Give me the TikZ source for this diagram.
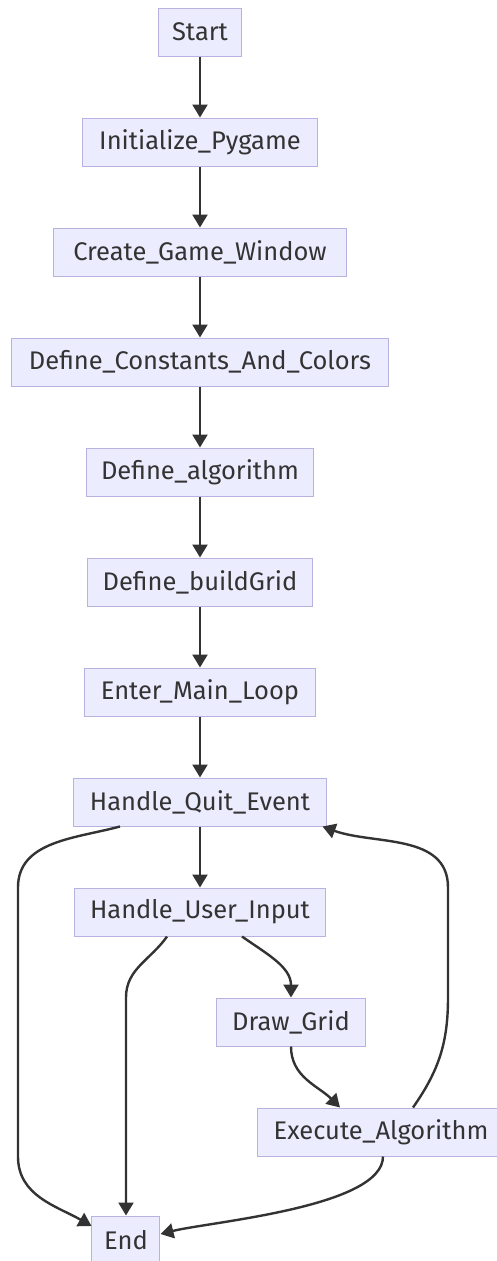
\documentclass[tikz,border=0pt]{standalone}
\usepackage{fontspec}
\setmainfont{Fira Sans}
\usetikzlibrary{arrows.meta}
\definecolor{boxfill}{HTML}{ECECFF}
\definecolor{boxline}{HTML}{B9B2E0}
\definecolor{linkcol}{HTML}{333333}
\tikzstyle{step box} = [rectangle, minimum height=48pt, inner xsep=4pt, text centered, fill=boxfill, draw=boxline, line width=1pt, font=\fontsize{25.5}{28}\selectfont, text=linkcol]
\tikzstyle{arrow} = [line width=2.4pt,->,>={Triangle[length=13pt,width=15pt]},draw=linkcol]

\begin{document}
\begin{tikzpicture}[node distance=110pt]
\useasboundingbox (-200pt,32pt) rectangle (296pt,-1229pt);
\node (start) [step box, minimum width=83pt] {Start};
\node (init) [step box, below of=start, minimum width=234pt] {Initialize\_Pygame};
\node (window) [step box, below of=init, minimum width=292pt] {Create\_Game\_Window};
\node (consts) [step box, below of=window, minimum width=377pt] {Define\_Constants\_And\_Colors};
\node (algo) [step box, below of=consts, minimum width=227pt] {Define\_algorithm};
\node (build) [step box, below of=algo, minimum width=225pt] {Define\_buildGrid};
\node (loop) [step box, below of=build, minimum width=230pt] {Enter\_Main\_Loop};

\node (quit) [step box, below of=loop, minimum width=252pt] {Handle\_Quit\_Event};
\node (input) [step box, below of=quit, minimum width=250pt] {Handle\_User\_Input};
\node (grid) [step box, below of=input, xshift=91pt, minimum width=149pt] {Draw\_Grid};
\node (exec) [step box, below of=grid, xshift=90pt, minimum width=248pt] {Execute\_Algorithm};
\node (end) [step box, below of=input, yshift=-218pt, xshift=-74pt, minimum width=68pt] {End};

% side rails for the long links
\coordinate (leftrail) at (-182pt,0);
\coordinate (rightrail) at (248pt,0);

\draw [arrow] (start) -- (init);
\draw [arrow] (init) -- (window);
\draw [arrow] (window) -- (consts);
\draw [arrow] (consts) -- (algo);
\draw [arrow] (algo) -- (build);
\draw [arrow] (build) -- (loop);
\draw [arrow] (loop) -- (quit);
\draw [arrow] (quit) -- (input);

\draw [arrow] ([xshift=-80pt]quit.south) to[out=195,in=90] (leftrail |- input.north) -- (leftrail |- exec.south) to[out=-90,in=150] ([yshift=14pt]end.west);
\draw [arrow] ([xshift=-33pt]input.south) to[out=235,in=90] (end.north |- grid.north) -- (end.north);
\draw [arrow] ([xshift=42pt]input.south) to[out=-35,in=90] (grid.north);
\draw [arrow] (grid.south) to[out=-90,in=135] ([xshift=-41pt]exec.north);
\draw [arrow] ([xshift=32pt]exec.north) to[out=55,in=-90] (rightrail |- grid.north) -- (rightrail |- input.north) to[out=90,in=-20] ([xshift=-4pt]quit.south east);
\draw [arrow] ([xshift=2pt]exec.south) to[out=-90,in=14,looseness=0.55] ([yshift=6pt]end.east);

\end{tikzpicture}
\end{document}
